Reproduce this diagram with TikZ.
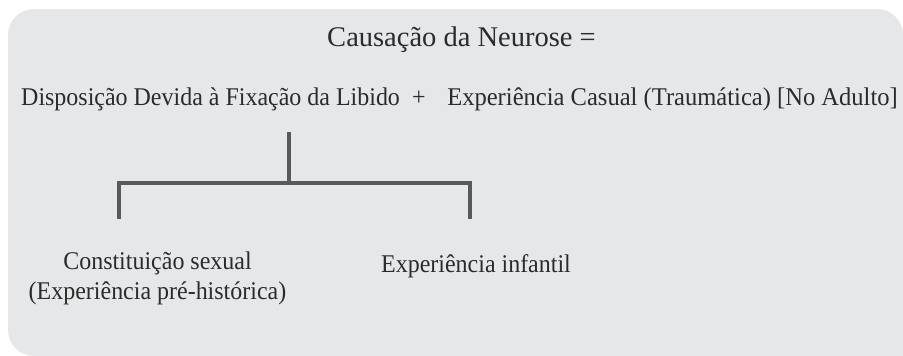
\documentclass[tikz,border=0pt]{standalone}
\usepackage{fontspec}
\setmainfont{Liberation Serif}
\newfontfamily\narrowserif[FakeStretch=0.94]{Liberation Serif}
\newfontfamily\midserif[FakeStretch=0.963]{Liberation Serif}
\definecolor{panel}{HTML}{E6E7E9}
\definecolor{ink}{HTML}{2B2B2B}
\definecolor{bar}{HTML}{58595B}
\tikzset{
  lbl/.style={inner sep=0pt, text=ink, font=\narrowserif\fontsize{25.5}{30}\selectfont},
  lblw/.style={inner sep=0pt, text=ink, font=\midserif\fontsize{25.5}{30}\selectfont},
  ttl/.style={inner sep=0pt, text=ink, font=\fontsize{28.5}{33}\selectfont},
  brk/.style={draw=bar, line width=3.3pt, line cap=butt}
}
\begin{document}
\begin{tikzpicture}[x=1pt,y=-1pt]
\useasboundingbox (0,0) rectangle (903,356);
\fill[panel, rounded corners=26pt] (8,9) rectangle (903,356);
\fill[panel] (850,300) rectangle (903,356);
\node[ttl, anchor=base] (title) at (461.5,46) {Causação da Neurose =};
\node[lbl, anchor=base west] (disp) at (21,105) {Disposição Devida à Fixação da Libido};
\node[lbl, anchor=base] (plus) at (419,105) {+};
\node[lblw, anchor=base east] (exp) at (898,105) {Experiência Casual (Traumática) [No Adulto]};
\node[lbl, anchor=base] (const) at (157.5,269) {Constituição sexual};
\node[lbl, anchor=base] (hist) at (157.5,299) {(Experiência pré-histórica)};
\node[lbl, anchor=base] (inf) at (476,272) {Experiência infantil};
\coordinate (stemtop) at (289,132);
\coordinate (stembot) at (289,183);
\coordinate (barl) at (119,183);
\coordinate (barr) at (470,183);
\coordinate (legl) at (119,219);
\coordinate (legr) at (470,219);
\draw[brk] (stemtop) -- (stembot);
\draw[brk] (legl) -- (barl) -- (barr) -- (legr);
\end{tikzpicture}
\end{document}
